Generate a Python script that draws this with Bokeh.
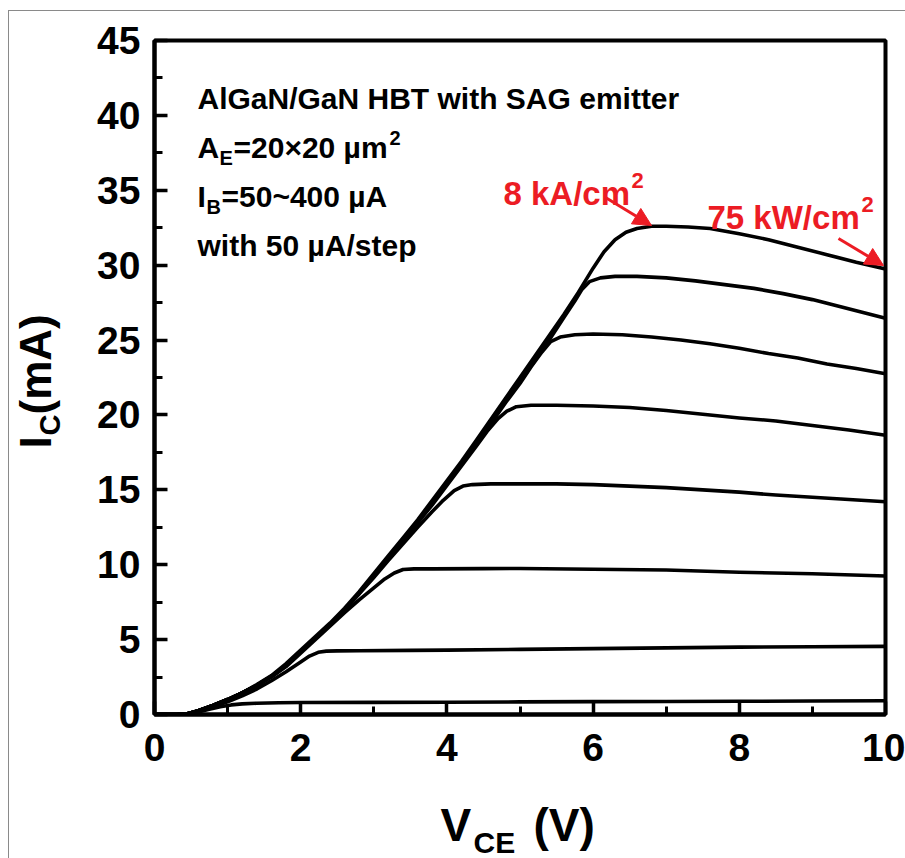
from bokeh.plotting import figure
from bokeh.models import Range1d, SingleIntervalTicker, Label, Arrow, NormalHead
from bokeh.embed import file_html
from bokeh.resources import INLINE

# ---------------- data ----------------
V_50 = [0.0, 0.3, 0.45, 0.6, 0.75, 0.9, 1.05, 1.2, 1.4, 1.7, 2.0, 3.0, 4.0, 5.0, 6.0, 7.0, 8.0, 9.0, 10.0]
I_50 = [0.0, 0.0, 0.04, 0.17, 0.35, 0.52, 0.64, 0.71, 0.75, 0.78, 0.8, 0.81, 0.82, 0.84, 0.86, 0.87, 0.88, 0.9, 0.92]

V_100 = [0.0, 0.3, 0.45, 0.6, 0.8, 1.0, 1.2, 1.4, 1.6, 1.8, 2.0, 2.12, 2.24, 2.35, 2.5, 2.8, 3.5, 4.0, 5.0, 6.0, 7.0, 8.0, 9.0, 10.0]
I_100 = [0.0, 0.0, 0.05, 0.22, 0.52, 0.85, 1.25, 1.7, 2.25, 2.85, 3.5, 3.9, 4.15, 4.23, 4.25, 4.26, 4.28, 4.3, 4.35, 4.4, 4.45, 4.5, 4.52, 4.55]

V_150 = [0.0, 0.3, 0.45, 0.6, 0.8, 1.0, 1.2, 1.4, 1.6, 1.8, 2.0, 2.2, 2.4, 2.6, 2.8, 3.0, 3.15, 3.28, 3.4, 3.55, 3.8, 4.5, 5.0, 6.0, 7.0, 8.0, 9.0, 10.0]
I_150 = [0.0, 0.0, 0.05, 0.25, 0.6, 0.98, 1.42, 1.92, 2.5, 3.2, 4.1, 5.0, 5.9, 6.8, 7.65, 8.45, 9.05, 9.45, 9.68, 9.72, 9.72, 9.74, 9.75, 9.7, 9.65, 9.5, 9.4, 9.25]

V_200 = [0.0, 0.3, 0.45, 0.6, 0.8, 1.0, 1.2, 1.4, 1.6, 1.8, 2.0, 2.2, 2.4, 2.6, 2.8, 3.0, 3.2, 3.4, 3.6, 3.8, 3.95, 4.1, 4.22, 4.35, 4.6, 5.0, 5.5, 6.0, 6.5, 7.0, 7.5, 8.0, 8.5, 9.0, 9.5, 10.0]
I_200 = [0.0, 0.0, 0.05, 0.25, 0.6, 1.0, 1.45, 1.95, 2.55, 3.3, 4.2, 5.1, 6.0, 7.0, 8.05, 9.15, 10.3, 11.4, 12.5, 13.55, 14.3, 14.95, 15.25, 15.35, 15.4, 15.4, 15.4, 15.35, 15.25, 15.15, 15.0, 14.85, 14.65, 14.5, 14.35, 14.2]

V_250 = [0.0, 0.3, 0.45, 0.6, 0.8, 1.0, 1.2, 1.4, 1.6, 1.8, 2.0, 2.2, 2.4, 2.6, 2.8, 3.0, 3.2, 3.4, 3.6, 3.8, 4.0, 4.2, 4.4, 4.55, 4.7, 4.82, 4.95, 5.15, 5.5, 6.0, 6.5, 7.0, 7.5, 8.0, 8.5, 9.0, 9.5, 10.0]
I_250 = [0.0, 0.0, 0.05, 0.25, 0.6, 1.0, 1.45, 1.95, 2.55, 3.3, 4.2, 5.1, 6.0, 7.0, 8.1, 9.3, 10.45, 11.6, 12.8, 14.0, 15.3, 16.6, 17.9, 18.9, 19.75, 20.25, 20.55, 20.65, 20.65, 20.6, 20.5, 20.3, 20.05, 19.8, 19.6, 19.3, 19.0, 18.65]

V_300 = [0.0, 0.3, 0.45, 0.6, 0.8, 1.0, 1.2, 1.4, 1.6, 1.8, 2.0, 2.2, 2.4, 2.6, 2.8, 3.0, 3.2, 3.4, 3.6, 3.8, 4.0, 4.2, 4.4, 4.6, 4.8, 5.0, 5.15, 5.3, 5.42, 5.55, 5.75, 6.0, 6.4, 6.8, 7.2, 7.6, 8.0, 8.4, 8.8, 9.2, 9.6, 10.0]
I_300 = [0.0, 0.0, 0.05, 0.25, 0.6, 1.0, 1.45, 1.95, 2.55, 3.3, 4.2, 5.1, 6.0, 7.0, 8.1, 9.3, 10.5, 11.7, 12.9, 14.1, 15.4, 16.7, 18.0, 19.4, 20.8, 22.1, 23.2, 24.2, 24.9, 25.2, 25.35, 25.4, 25.35, 25.2, 25.0, 24.75, 24.45, 24.1, 23.8, 23.4, 23.1, 22.75]

V_350 = [0.0, 0.3, 0.45, 0.6, 0.8, 1.0, 1.2, 1.4, 1.6, 1.8, 2.0, 2.2, 2.4, 2.6, 2.8, 3.0, 3.2, 3.4, 3.6, 3.8, 4.0, 4.2, 4.4, 4.6, 4.8, 5.0, 5.2, 5.4, 5.6, 5.75, 5.85, 5.95, 6.1, 6.3, 6.6, 7.0, 7.4, 7.8, 8.2, 8.6, 9.0, 9.4, 9.8, 10.0]
I_350 = [0.0, 0.0, 0.05, 0.25, 0.6, 1.0, 1.45, 1.95, 2.55, 3.3, 4.2, 5.1, 6.0, 7.0, 8.1, 9.3, 10.5, 11.7, 12.9, 14.2, 15.5, 16.8, 18.1, 19.5, 20.9, 22.2, 23.6, 25.0, 26.5, 27.6, 28.4, 28.9, 29.15, 29.25, 29.25, 29.15, 28.95, 28.7, 28.45, 28.1, 27.7, 27.2, 26.7, 26.45]

V_400 = [0.0, 0.3, 0.45, 0.6, 0.8, 1.0, 1.2, 1.4, 1.6, 1.8, 2.0, 2.2, 2.4, 2.6, 2.8, 3.0, 3.2, 3.4, 3.6, 3.8, 4.0, 4.2, 4.4, 4.6, 4.8, 5.0, 5.2, 5.4, 5.6, 5.8, 6.0, 6.15, 6.3, 6.45, 6.6, 6.8, 7.0, 7.3, 7.6, 8.0, 8.4, 8.8, 9.2, 9.6, 10.0]
I_400 = [0.0, 0.0, 0.05, 0.25, 0.6, 1.0, 1.45, 2.0, 2.6, 3.4, 4.3, 5.2, 6.1, 7.1, 8.2, 9.4, 10.6, 11.8, 13.0, 14.3, 15.6, 16.9, 18.3, 19.7, 21.1, 22.5, 23.9, 25.3, 26.7, 28.2, 29.8, 30.9, 31.7, 32.2, 32.45, 32.6, 32.6, 32.55, 32.45, 32.1, 31.7, 31.2, 30.7, 30.2, 29.75]

CURVES = [(V_50, I_50), (V_100, I_100), (V_150, I_150), (V_200, I_200),
          (V_250, I_250), (V_300, I_300), (V_350, I_350), (V_400, I_400)]

X_MIN, X_MAX = 0, 10
Y_MIN, Y_MAX = 0, 45

# ---------------- layout ----------------
FL, FT, FW, FH = 154, 40, 731, 674     # frame left/top/width/height (page pixels)
RED = "#ec1c24"
FONT = "Liberation Sans"

def dx(px):   # page pixel -> data x
    return X_MIN + (px - FL) / FW * (X_MAX - X_MIN)

def dy(py):   # page pixel -> data y
    return Y_MIN + (FT + FH - py) / FH * (Y_MAX - Y_MIN)

p = figure(frame_width=FW, frame_height=FH, x_range=Range1d(X_MIN, X_MAX), y_range=Range1d(Y_MIN, Y_MAX),
           output_backend="svg", toolbar_location=None,
           min_border_left=FL, min_border_top=FT, min_border_right=20, min_border_bottom=144)
p.background_fill_color = "white"
p.border_fill_color = "white"
p.xgrid.visible = False
p.ygrid.visible = False
p.outline_line_color = "black"
p.outline_line_width = 4

p.xaxis.ticker = SingleIntervalTicker(interval=2, num_minor_ticks=2)
p.yaxis.ticker = SingleIntervalTicker(interval=5, num_minor_ticks=2)
for ax in (p.xaxis[0], p.yaxis[0]):
    ax.axis_line_width = 4
    ax.axis_line_color = "black"
    ax.major_tick_in = 13
    ax.major_tick_out = 0
    ax.minor_tick_in = 8
    ax.minor_tick_out = 0
    ax.major_tick_line_width = 3.5
    ax.minor_tick_line_width = 3
    ax.major_label_text_font = FONT
    ax.major_label_text_font_style = "bold"
    ax.major_label_text_font_size = "39px"
    ax.major_label_text_color = "black"
p.xaxis.major_label_standoff = 19
p.yaxis.major_label_standoff = 14

for vs, cs in CURVES:
    p.line(vs, cs, line_color="black", line_width=3.6, line_join="round", line_cap="round")

def lab(text, px, py, size, color="black", angle=0, side=None):
    l = Label(x=dx(px), y=dy(py), text=text, text_font=FONT, text_font_style="bold",
              text_font_size=f"{size}px", text_color=color, text_align="left",
              text_baseline="alphabetic" if side is None else "middle",
              angle=angle, angle_units="deg")
    if side is None:
        p.add_layout(l)
    else:
        p.add_layout(l, side)

# notes inside the frame
lab("AlGaN/GaN HBT with SAG emitter", 197, 98, 30)
lab("A", 197, 147, 30)
lab("E", 219, 157, 20)
lab("=20×20 µm", 233, 147, 30)
lab("2", 389, 137, 20)
lab("I", 197, 196, 30)
lab("B", 206, 206, 20)
lab("=50~400 µA", 221, 196, 30)
lab("with 50 µA/step", 197, 245, 30)

# red annotations
lab("8 kA/cm", 503, 193, 33, RED)
lab("2", 631, 180, 22, RED)
lab("75 kW/cm", 707, 217, 33, RED)
lab("2", 861, 204, 22, RED)
for (x0, y0, x1, y1) in [(605, 197, 651, 225), (838, 238, 883, 265)]:
    p.add_layout(Arrow(x_start=dx(x0), y_start=dy(y0), x_end=dx(x1), y_end=dy(y1),
                       line_color=RED, line_width=3,
                       end=NormalHead(size=18, fill_color=RED, line_color=RED, line_width=1)))

# axis titles (outside the frame: placed in a side panel so they are not clipped;
# anchored at the middle of the text box)
lab("V", 440, 824, 46, side="below")
lab("CE", 473, 842, 30, side="below")
lab("(V)", 533, 824, 46, side="below")
lab("I", 35, 448, 44, angle=90, side="below")
lab("C", 49, 435, 29, angle=90, side="below")
lab("(mA)", 35, 414, 44, angle=90, side="below")

html = file_html(p, INLINE)
css = ("<style>html,body{margin:0;padding:0;overflow:hidden;background:#fff}"
       "body::after{content:'';position:fixed;left:8px;top:10px;width:3000px;height:3000px;"
       "border-left:1px solid #8a8a8a;border-top:1px solid #8a8a8a;z-index:10;pointer-events:none}</style>")
html = html.replace("</head>", css + "</head>", 1)
open("out.html", "w").write(html)
